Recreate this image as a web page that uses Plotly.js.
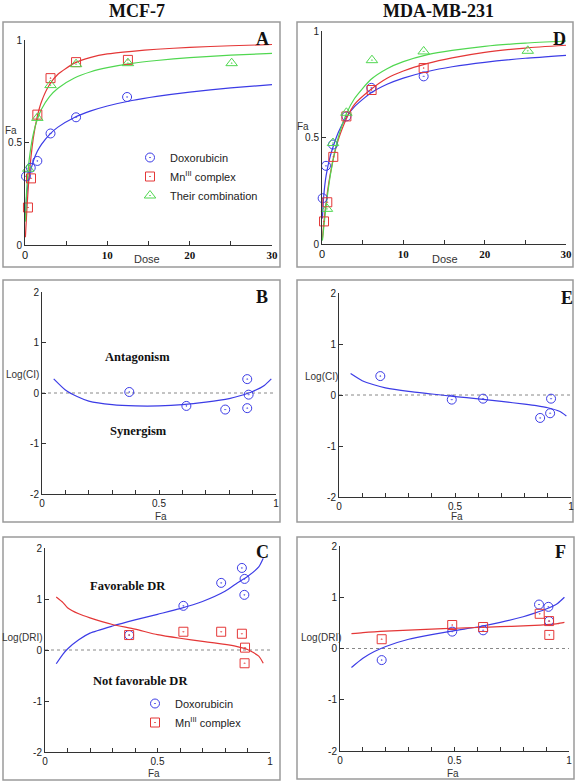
<!DOCTYPE html>
<html>
<head>
<meta charset="utf-8">
<script src="https://cdn.plot.ly/plotly-3.0.1.min.js"></script>
<style>html,body{margin:0;padding:0;background:#fff;}#chart{width:579px;height:783px;}</style>
</head>
<body>
<div id="chart"></div>
<script>
// ---------- DATA ----------
// Panel A (MCF-7) dose-effect
const doseA_dox = [0.12, 0.7, 1.5, 3.1, 6.2, 12.4];
const faA_dox   = [0.335, 0.377, 0.41, 0.544, 0.623, 0.722];
const doseA_mn  = [0.36, 0.73, 1.5, 3.1, 6.2, 12.5];
const faA_mn    = [0.183, 0.325, 0.636, 0.814, 0.892, 0.903];
const doseA_comb = [0.4, 1.5, 3.1, 6.2, 12.5, 25.1];
const faA_comb   = [0.372, 0.62, 0.78, 0.882, 0.887, 0.887];
const curveDose = [0.05, 0.2, 0.5, 1, 1.5, 2, 3, 4, 6, 8, 10, 13, 16, 20, 25, 30];
const fitA_dox  = [0.14, 0.24, 0.33, 0.408, 0.457, 0.491, 0.54, 0.575, 0.622, 0.654, 0.678, 0.705, 0.725, 0.746, 0.766, 0.782];
const fitA_mn   = [0.038, 0.154, 0.334, 0.519, 0.628, 0.699, 0.784, 0.833, 0.887, 0.915, 0.932, 0.945, 0.955, 0.964, 0.972, 0.978];
const fitA_comb = [0.114, 0.264, 0.413, 0.54, 0.613, 0.662, 0.725, 0.765, 0.815, 0.845, 0.865, 0.886, 0.9, 0.914, 0.926, 0.935];

// Panel D (MDA-MB-231) dose-effect
const doseD_dox = [0.08, 0.49, 1.35, 3.0, 6.06, 12.5];
const faD_dox   = [0.215, 0.367, 0.467, 0.599, 0.733, 0.787];
const doseD_mn  = [0.25, 0.65, 1.39, 3.0, 6.1, 12.5];
const faD_mn    = [0.106, 0.196, 0.409, 0.599, 0.723, 0.826];
const doseD_comb = [0.61, 1.35, 3.0, 6.14, 12.5, 25.3];
const faD_comb   = [0.165, 0.474, 0.616, 0.863, 0.904, 0.907];
const fitD_dox  = [0.12, 0.22, 0.32, 0.41, 0.472, 0.524, 0.596, 0.645, 0.709, 0.75, 0.779, 0.81, 0.832, 0.853, 0.872, 0.886];
const fitD_mn   = [0.024, 0.089, 0.196, 0.325, 0.419, 0.489, 0.588, 0.655, 0.725, 0.778, 0.812, 0.848, 0.874, 0.9, 0.92, 0.933];
const fitD_comb = [0.016, 0.072, 0.177, 0.317, 0.421, 0.5, 0.611, 0.683, 0.772, 0.823, 0.856, 0.889, 0.909, 0.928, 0.943, 0.953];

// Panel B: Log(CI) MCF-7
const faB_pts = [0.373, 0.617, 0.783, 0.877, 0.883, 0.877];
const ciB_pts = [0.02, -0.256, -0.328, 0.275, -0.033, -0.30];
const curveFa = [0.05, 0.1, 0.15, 0.2, 0.3, 0.4, 0.5, 0.6, 0.7, 0.8, 0.85, 0.9, 0.95, 0.98];
const ciB_fit = [0.28, 0.06, -0.07, -0.16, -0.23, -0.255, -0.255, -0.23, -0.18, -0.11, -0.05, 0.03, 0.15, 0.28];

// Panel E: Log(CI) MDA-MB-231
const faE_pts = [0.178, 0.486, 0.621, 0.867, 0.91, 0.914];
const ciE_pts = [0.371, -0.091, -0.072, -0.45, -0.358, -0.072];
const ciE_fit = [0.42, 0.28, 0.2, 0.14, 0.07, 0.02, -0.03, -0.075, -0.125, -0.18, -0.21, -0.25, -0.32, -0.41];

// Panel C: Log(DRI) MCF-7
const faC_dox = [0.374, 0.615, 0.783, 0.875, 0.887, 0.886];
const driC_dox = [0.293, 0.866, 1.316, 1.609, 1.394, 1.081];
const faC_mn = [0.374, 0.615, 0.783, 0.875, 0.889, 0.887];
const driC_mn = [0.293, 0.358, 0.358, 0.319, 0.046, -0.26];
const curveFaC = [0.05, 0.08, 0.1, 0.15, 0.2, 0.3, 0.4, 0.5, 0.6, 0.7, 0.8, 0.85, 0.9, 0.95, 0.97];
const driC_dox_fit = [-0.27, -0.08, 0.02, 0.2, 0.33, 0.47, 0.59, 0.7, 0.81, 0.95, 1.15, 1.3, 1.44, 1.63, 1.8];
const driC_mn_fit  = [1.04, 0.93, 0.83, 0.71, 0.63, 0.5, 0.41, 0.3, 0.23, 0.17, 0.11, 0.07, 0.01, -0.12, -0.26];

// Panel F: Log(DRI) MDA-MB-231
const faF_dox = [0.182, 0.49, 0.625, 0.869, 0.91, 0.913];
const driF_dox = [-0.226, 0.329, 0.355, 0.858, 0.813, 0.535];
const faF_mn = [0.182, 0.49, 0.625, 0.872, 0.913, 0.914];
const driF_mn = [0.181, 0.458, 0.419, 0.677, 0.535, 0.265];
const driF_dox_fit = [-0.37, -0.19, -0.06, 0.04, 0.18, 0.27, 0.35, 0.42, 0.51, 0.62, 0.69, 0.77, 0.88, 1.0];
const driF_mn_fit  = [0.29, 0.31, 0.325, 0.34, 0.36, 0.38, 0.395, 0.41, 0.425, 0.44, 0.45, 0.465, 0.485, 0.51];

const names = ['Doxorubicin', 'Mn<sup>III</sup> complex', 'Their combination'];
const doseTicks = [0, 5, 10, 15, 20, 25, 30];
const doseTickText = ['<span style="font-family:Liberation Sans;font-weight:normal">0</span>', '', '<b>10</b>', '', '<b>20</b>', '', '<b>30</b>'];
const faTicks = [0, 0.1, 0.2, 0.3, 0.4, 0.5, 0.6, 0.7, 0.8, 0.9, 1];
const faTickText = ['0', '', '', '', '', '0.5', '', '', '', '', '1'];
const logTicks = [-2, -1, 0, 1, 2];

// ---------- STYLE ----------
const W = 579, H = 783;
const BLUE = 'rgb(60,60,230)', RED = 'rgb(228,55,55)', GREEN = 'rgb(80,215,80)';
const SANS = 'Liberation Sans, Arial, sans-serif';
const SERIF = 'Liberation Serif, Times New Roman, serif';
const px = v => v / W, py = v => 1 - v / H;

function xa(p0, p1, anchor, range, tv, tt, tf) {
  return {domain: [px(p0), px(p1)], anchor: anchor, range: range, showline: true, linecolor: '#333', linewidth: 1,
    ticks: 'inside', ticklen: 4, tickcolor: '#333', showgrid: false, zeroline: false,
    tickmode: 'array', tickvals: tv, ticktext: tt, tickfont: tf || {family: SANS, size: 10, color: '#222'}, fixedrange: true};
}
function ya(p0, p1, anchor, range, tv) {
  return {domain: [py(p1), py(p0)], anchor: anchor, range: range, showline: true, linecolor: '#333', linewidth: 1,
    ticks: 'inside', ticklen: 4, tickcolor: '#333', showgrid: false, zeroline: false,
    tickmode: 'array', tickvals: tv, ticktext: tv.map(String), tickfont: {family: SANS, size: 10, color: '#222'}, fixedrange: true};
}
function pts(x, y, xa_, ya_, color, sym, name, legend, show) {
  return {x: x, y: y, xaxis: xa_, yaxis: ya_, mode: 'markers', type: 'scatter', name: name, legend: legend,
    showlegend: !!show, cliponaxis: false,
    marker: {symbol: sym, size: sym.indexOf('triangle') === 0 ? 10 : 9, color: color, line: {color: color, width: 1}}};
}
function fit(x, y, xa_, ya_, color) {
  return {x: x, y: y, xaxis: xa_, yaxis: ya_, mode: 'lines', type: 'scatter', showlegend: false, cliponaxis: false,
    line: {color: color, width: 1.2, shape: 'spline', smoothing: 0.6}, hoverinfo: 'skip'};
}

const data = [
  // A
  fit(curveDose, fitA_dox, 'x', 'y', BLUE),
  fit(curveDose, fitA_mn, 'x', 'y', RED),
  fit(curveDose, fitA_comb, 'x', 'y', GREEN),
  pts(doseA_dox, faA_dox, 'x', 'y', BLUE, 'circle-open-dot', names[0], 'legend', true),
  pts(doseA_mn, faA_mn, 'x', 'y', RED, 'square-open-dot', names[1], 'legend', true),
  pts(doseA_comb, faA_comb, 'x', 'y', GREEN, 'triangle-up-open-dot', names[2], 'legend', true),
  // B
  fit(curveFa, ciB_fit, 'x2', 'y2', BLUE),
  pts(faB_pts, ciB_pts, 'x2', 'y2', BLUE, 'circle-open-dot', names[0], 'legend', false),
  // C
  fit(curveFaC, driC_dox_fit, 'x3', 'y3', BLUE),
  fit(curveFaC, driC_mn_fit, 'x3', 'y3', RED),
  pts(faC_dox, driC_dox, 'x3', 'y3', BLUE, 'circle-open-dot', names[0], 'legend2', true),
  pts(faC_mn, driC_mn, 'x3', 'y3', RED, 'square-open-dot', names[1], 'legend2', true),
  // D
  fit(curveDose, fitD_dox, 'x4', 'y4', BLUE),
  fit(curveDose, fitD_mn, 'x4', 'y4', RED),
  fit(curveDose, fitD_comb, 'x4', 'y4', GREEN),
  pts(doseD_dox, faD_dox, 'x4', 'y4', BLUE, 'circle-open-dot', names[0], 'legend', false),
  pts(doseD_mn, faD_mn, 'x4', 'y4', RED, 'square-open-dot', names[1], 'legend', false),
  pts(doseD_comb, faD_comb, 'x4', 'y4', GREEN, 'triangle-up-open-dot', names[2], 'legend', false),
  // E
  fit(curveFa, ciE_fit, 'x5', 'y5', BLUE),
  pts(faE_pts, ciE_pts, 'x5', 'y5', BLUE, 'circle-open-dot', names[0], 'legend', false),
  // F
  fit(curveFa, driF_dox_fit, 'x6', 'y6', BLUE),
  fit(curveFa, driF_mn_fit, 'x6', 'y6', RED),
  pts(faF_dox, driF_dox, 'x6', 'y6', BLUE, 'circle-open-dot', names[0], 'legend', false),
  pts(faF_mn, driF_mn, 'x6', 'y6', RED, 'square-open-dot', names[1], 'legend', false)
];

const doseFont = {family: SERIF, size: 11, color: '#111'};

function ann(text, x, y, font, opts) {
  return Object.assign({text: text, x: px(x), y: py(y), xref: 'paper', yref: 'paper', showarrow: false,
    xanchor: 'center', yanchor: 'middle', font: font}, opts || {});
}
const lblFont = {family: SANS, size: 10, color: '#333'};
const letterFont = {family: SERIF, size: 18, color: '#111', weight: 'bold'};
const regionFont = {family: SERIF, size: 12.5, color: '#111', weight: 'bold'};
const titleFont = {family: SERIF, size: 18, color: '#111', weight: 'bold'};

const annotations = [
  ann('<b>MCF-7</b>', 137, 11, titleFont),
  ann('<b>MDA-MB-231</b>', 438, 11, titleFont),
  ann('<b>A</b>', 262, 39, letterFont), ann('<b>D</b>', 559, 39, letterFont),
  ann('<b>B</b>', 262, 297, letterFont), ann('<b>E</b>', 567, 298, letterFont),
  ann('<b>C</b>', 262, 552, letterFont), ann('<b>F</b>', 560, 552, letterFont),
  ann('<b>Antagonism</b>', 137, 357, regionFont), ann('<b>Synergism</b>', 138, 431, regionFont),
  ann('<b>Favorable DR</b>', 128, 586, regionFont), ann('<b>Not favorable DR</b>', 140, 681, regionFont),
  ann('Fa', 11, 130, lblFont), ann('Dose', 147, 259, {family: SANS, size: 11, color: '#333'}),
  ann('Fa', 303, 127, lblFont), ann('Dose', 445, 259, {family: SANS, size: 11, color: '#333'}),
  ann('Log(CI)', 22, 374, lblFont), ann('Fa', 161, 516, lblFont),
  ann('Log(CI)', 321, 377, lblFont), ann('Fa', 457, 516, lblFont),
  ann('Log(DRI)', 22, 637, lblFont), ann('Fa', 154, 773, lblFont),
  ann('Log(DRI)', 321, 637, lblFont), ann('Fa', 453, 773, lblFont)
];

function rect(x0, y0, x1, y1) {
  return {type: 'rect', xref: 'paper', yref: 'paper', x0: px(x0), x1: px(x1), y0: py(y1), y1: py(y0),
    line: {color: '#9a9a9a', width: 1.5}, fillcolor: 'rgba(0,0,0,0)', layer: 'below'};
}
function zline(xr, yr) {
  return {type: 'line', xref: xr, yref: yr, x0: 0, x1: 1, y0: 0, y1: 0, line: {color: '#888', width: 1, dash: 'dot'}, layer: 'below'};
}
const shapes = [
  rect(3, 22, 280, 267), rect(297, 22, 573, 267),
  rect(3, 280, 280, 522), rect(297, 280, 573, 522),
  rect(3, 537, 280, 780), rect(297, 537, 574, 779),
  zline('x2', 'y2'), zline('x3', 'y3'), zline('x5', 'y5'), zline('x6', 'y6')
];

const layout = {
  width: W, height: H, margin: {l: 0, r: 0, t: 0, b: 0}, paper_bgcolor: '#fff', plot_bgcolor: 'rgba(0,0,0,0)',
  showlegend: true, hovermode: false,
  font: {family: SANS, color: '#222'},
  xaxis: xa(25, 272, 'y', [0, 30], doseTicks, doseTickText, doseFont),
  yaxis: ya(40, 245, 'x', [0, 1], [0, 0.5, 1]),
  xaxis2: xa(42, 276, 'y2', [0, 1], faTicks, faTickText),
  yaxis2: ya(292, 494, 'x2', [-2, 2], logTicks),
  xaxis3: xa(45, 270, 'y3', [0, 1], faTicks, faTickText),
  yaxis3: ya(548, 752, 'x3', [-2, 2], logTicks),
  xaxis4: xa(322, 566, 'y4', [0, 30], doseTicks, doseTickText, doseFont),
  yaxis4: ya(31, 244, 'x4', [0, 1], [0, 0.5, 1]),
  xaxis5: xa(339, 571, 'y5', [0, 1], faTicks, faTickText),
  yaxis5: ya(293, 497, 'x5', [-2, 2], logTicks),
  xaxis6: xa(340, 569, 'y6', [0, 1], faTicks, faTickText),
  yaxis6: ya(546, 751, 'x6', [-2, 2], logTicks),
  legend: {x: px(130), y: py(143), xanchor: 'left', yanchor: 'top', bgcolor: 'rgba(0,0,0,0)',
    font: {family: SANS, size: 11, color: '#222'}, tracegroupgap: 0, itemwidth: 30},
  legend2: {x: px(135), y: py(689), xanchor: 'left', yanchor: 'top', bgcolor: 'rgba(0,0,0,0)',
    font: {family: SANS, size: 11, color: '#222'}, tracegroupgap: 0, itemwidth: 30},
  annotations: annotations,
  shapes: shapes
};

Plotly.newPlot('chart', data, layout, {staticPlot: true, displayModeBar: false});
</script>
</body>
</html>
